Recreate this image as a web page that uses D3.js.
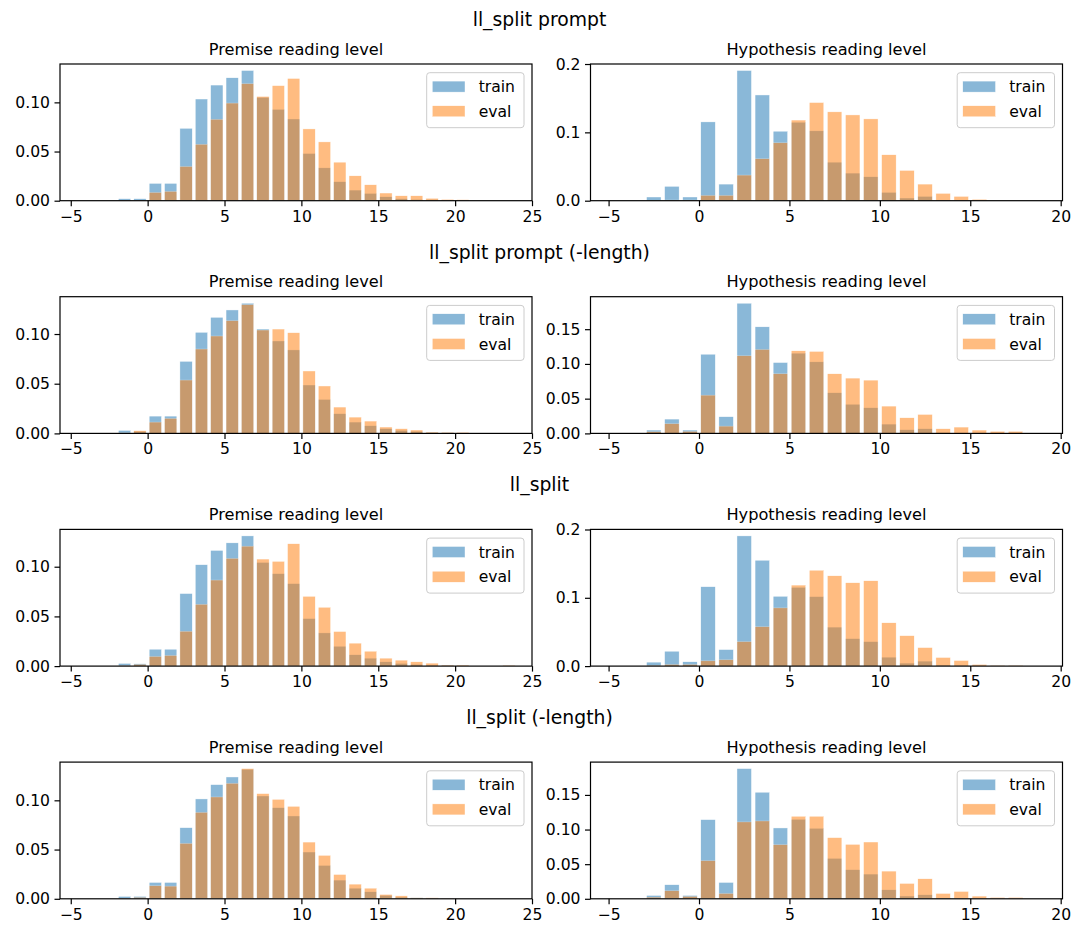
<!DOCTYPE html>
<html><head><meta charset="utf-8">
<script src="https://cdn.jsdelivr.net/npm/d3@7/dist/d3.min.js"></script>
<style>body{margin:0;background:#fff;} svg{display:block;font-family:"DejaVu Sans",sans-serif;}</style>
</head><body><svg id="chart" width="1079" height="932"></svg>
<script>
// ---------- data ----------
const rowTitles = ["ll_split prompt", "ll_split prompt (-length)", "ll_split", "ll_split (-length)"];
const panelTitles = ["Premise reading level", "Hypothesis reading level"];
const seriesNames = ["train", "eval"];
const premiseBins = [-2,-1,0,1,2,3,4,5,6,7,8,9,10,11,12,13,14,15,16,17,18,19,20,21,22,23];
const hypothesisBins = [-3,-2,-1,0,1,2,3,4,5,6,7,8,9,10,11,12,13,14,15,16,17];
const premiseXTicks = [-5,0,5,10,15,20,25];
const hypothesisXTicks = [-5,0,5,10,15,20];
const premiseYTicks = [0, 0.05, 0.10];
const hypYTicksA = [0, 0.1, 0.2];
const hypYTicksB = [0, 0.05, 0.10, 0.15];

// row 1: ll_split prompt
const r1PremiseTrain = [.002,.002,.0176,.0176,.0736,.1034,.1176,.125,.1324,.105,.0929,.0831,.048,.0334,.0193,.0108,.0074,.004,.002,.0013,.001,.0007,.0007,0,0,0];
const r1PremiseEval  = [.0005,.0005,.0084,.0095,.0348,.0574,.0828,.0993,.119,.106,.117,.1243,.073,.0598,.0392,.0253,.0162,.0078,.005,.005,.0024,.0013,.001,0,0,0];
const r1HypTrain = [.0054,.021,.0054,.1153,.0243,.1905,.1547,.1017,.1148,.1022,.0564,.0404,.035,.0122,.0039,.0063,.001,.0005,.0003,0,0];
const r1HypEval  = [.0005,.001,.001,.0078,.0078,.0375,.0613,.0847,.118,.1436,.130,.1255,.1197,.0672,.0443,.0243,.0107,.0063,.002,0,0];
// row 2: ll_split prompt (-length)
const r2PremiseTrain = [.003,.002,.0174,.0174,.0725,.1017,.1168,.1242,.131,.105,.093,.084,.0487,.0342,.0198,.0114,.0077,.0047,.003,.002,.001,.0007,.0003,0,0,0];
const r2PremiseEval  = [.0005,.0027,.0114,.0151,.0537,.0849,.098,.1134,.1295,.104,.105,.1013,.0628,.0477,.0265,.0164,.0124,.0064,.0047,.0034,.0013,.001,.001,0,0,0];
const r2HypTrain = [.0048,.0206,.0048,.114,.024,.1874,.1534,.102,.1155,.103,.0585,.042,.0369,.0134,.0053,.0067,.001,.0005,.0003,.0003,.0003];
const r2HypEval  = [.0024,.0139,.0029,.0551,.0105,.1117,.1208,.0858,.1189,.118,.0858,.0796,.0767,.0393,.0225,.0273,.0067,.0091,.0048,.0029,.0029];
// row 3: ll_split
const r3PremiseTrain = [.0027,.0023,.017,.017,.073,.102,.1164,.124,.131,.1043,.093,.083,.0478,.0334,.020,.0114,.008,.0043,.0027,.0017,.001,.0007,.0003,0,0,.0003];
const r3PremiseEval  = [.0005,.0017,.0097,.0107,.0351,.0622,.0866,.1084,.1207,.1077,.1054,.1231,.0702,.0592,.0348,.0231,.015,.008,.006,.0043,.003,.001,.001,0,0,.0008];
const r3HypTrain = [.0058,.0218,.0063,.1162,.0242,.1906,.155,.1022,.1153,.1017,.0571,.0402,.0358,.0131,.0044,.0073,.0015,.001,.0005,.0003,.0003];
const r3HypEval  = [.001,.0024,.0024,.0077,.0092,.0358,.0576,.0852,.1186,.1404,.1322,.122,.1249,.0634,.0445,.0271,.0126,.0082,.0024,.001,.001];
// row 4: ll_split (-length)
const r4PremiseTrain = [.0024,.0024,.0166,.0166,.0722,.1014,.1159,.1237,.1315,.1044,.0925,.0841,.0475,.0339,.019,.0108,.0071,.0034,.0017,.001,.0007,.0003,0,0,0,0];
const r4PremiseEval  = [.0005,.0014,.0132,.0129,.0563,.0878,.1034,.1173,.1322,.1068,.101,.0939,.0576,.0441,.0247,.0149,.0108,.0044,.003,.001,.001,.0003,0,0,0,0];
const r4HypTrain = [.0048,.0203,.0048,.1143,.0236,.188,.1539,.1023,.1148,.1018,.0584,.042,.0357,.013,.004,.0058,.001,.0005,.0003,.0003,.0003];
const r4HypEval  = [.0024,.0116,.0034,.055,.0077,.111,.1124,.0781,.1192,.1192,.0883,.0786,.082,.04,.0222,.0289,.0077,.0106,.0039,.0019,.0019];

// ---------- layout ----------
const colors = ["#1f77b4", "#ff7f0e"];
const FS = 15.6, TFS = 16.2, SUP = 18.8;
const axW = 472, axH = 136.7;
const colX = [60, 590.5];
const rowY0 = 64, rowStep = 232.7;
const premiseDomain = [-5.7, 25.0];
const hypDomain = [-6.0, 20.1];

const panels = [
  {row:0,col:0,bins:premiseBins,train:r1PremiseTrain,eval:r1PremiseEval,xt:premiseXTicks,yt:premiseYTicks,fmt:".2f"},
  {row:0,col:1,bins:hypothesisBins,train:r1HypTrain,eval:r1HypEval,xt:hypothesisXTicks,yt:hypYTicksA,fmt:".1f"},
  {row:1,col:0,bins:premiseBins,train:r2PremiseTrain,eval:r2PremiseEval,xt:premiseXTicks,yt:premiseYTicks,fmt:".2f"},
  {row:1,col:1,bins:hypothesisBins,train:r2HypTrain,eval:r2HypEval,xt:hypothesisXTicks,yt:hypYTicksB,fmt:".2f"},
  {row:2,col:0,bins:premiseBins,train:r3PremiseTrain,eval:r3PremiseEval,xt:premiseXTicks,yt:premiseYTicks,fmt:".2f"},
  {row:2,col:1,bins:hypothesisBins,train:r3HypTrain,eval:r3HypEval,xt:hypothesisXTicks,yt:hypYTicksA,fmt:".1f"},
  {row:3,col:0,bins:premiseBins,train:r4PremiseTrain,eval:r4PremiseEval,xt:premiseXTicks,yt:premiseYTicks,fmt:".2f"},
  {row:3,col:1,bins:hypothesisBins,train:r4HypTrain,eval:r4HypEval,xt:hypothesisXTicks,yt:hypYTicksB,fmt:".2f"}
];

const svg = d3.select("#chart");

rowTitles.forEach((t, i) => {
  svg.append("text").attr("x", 539.5).attr("y", rowY0 + i*rowStep - 38)
    .attr("text-anchor", "middle").attr("font-size", SUP).attr("fill", "#000").text(t);
});

panels.forEach(p => {
  const ox = colX[p.col], oy = rowY0 + p.row*rowStep;
  const g = svg.append("g").attr("transform", `translate(${ox},${oy})`);
  const x = d3.scaleLinear().domain(p.col === 0 ? premiseDomain : hypDomain).range([0, axW]);
  const ymax = d3.max(p.train.concat(p.eval)) * 1.05;
  const y = d3.scaleLinear().domain([0, ymax]).range([axH, 0]);

  const clip = "clip" + p.row + p.col;
  g.append("clipPath").attr("id", clip).append("rect").attr("width", axW).attr("height", axH);
  const bars = g.append("g").attr("clip-path", `url(#${clip})`);
  [p.train, p.eval].forEach((vals, si) => {
    bars.append("g").selectAll("rect").data(p.bins.map((b, i) => ({b, v: vals[i]})).filter(d => d.v > 0))
      .join("rect")
      .attr("x", d => x(d.b + 0.1))
      .attr("width", d => x(d.b + 0.9) - x(d.b + 0.1))
      .attr("y", d => y(d.v))
      .attr("height", d => axH - y(d.v))
      .attr("fill", colors[si])
      .attr("stroke", "#fff").attr("stroke-width", 0.4)
      .attr("opacity", 0.52);
  });

  const xa = g.append("g").attr("transform", `translate(0,${axH})`)
    .call(d3.axisBottom(x).tickValues(p.xt).tickSize(5.5).tickPadding(4.5).tickFormat(d3.format("d")));
  const ya = g.append("g")
    .call(d3.axisLeft(y).tickValues(p.yt).tickSize(5.5).tickPadding(4.5).tickFormat(d3.format(p.fmt)));
  [xa, ya].forEach(a => {
    a.select(".domain").remove();
    a.selectAll("line").attr("stroke", "#000").attr("stroke-width", 1.2);
    a.selectAll("text").attr("font-size", FS).attr("font-family", "DejaVu Sans").attr("fill", "#000");
  });

  g.append("rect").attr("width", axW).attr("height", axH)
    .attr("fill", "none").attr("stroke", "#000").attr("stroke-width", 1.2);

  g.append("text").attr("x", axW/2).attr("y", -9.5).attr("text-anchor", "middle")
    .attr("font-size", TFS).attr("fill", "#000").text(panelTitles[p.col]);

  // legend
  const lw = 97.3, lh = 55;
  const lg = g.append("g").attr("transform", `translate(${axW - 8 - lw},${8.7})`);
  lg.append("rect").attr("width", lw).attr("height", lh).attr("rx", 3)
    .attr("fill", "#fff").attr("fill-opacity", 0.8).attr("stroke", "#cccccc").attr("stroke-width", 1);
  seriesNames.forEach((s, i) => {
    const cy = 13.9 + i*24.7;
    lg.append("rect").attr("x", 5.6).attr("y", cy - 5.5).attr("width", 32.7).attr("height", 11)
      .attr("fill", colors[i]).attr("opacity", 0.52).attr("stroke", "#fff").attr("stroke-width", 0.4);
    lg.append("text").attr("x", 52).attr("y", cy).attr("dy", "0.36em")
      .attr("font-size", FS).attr("fill", "#000").text(s);
  });
});
</script></body></html>
